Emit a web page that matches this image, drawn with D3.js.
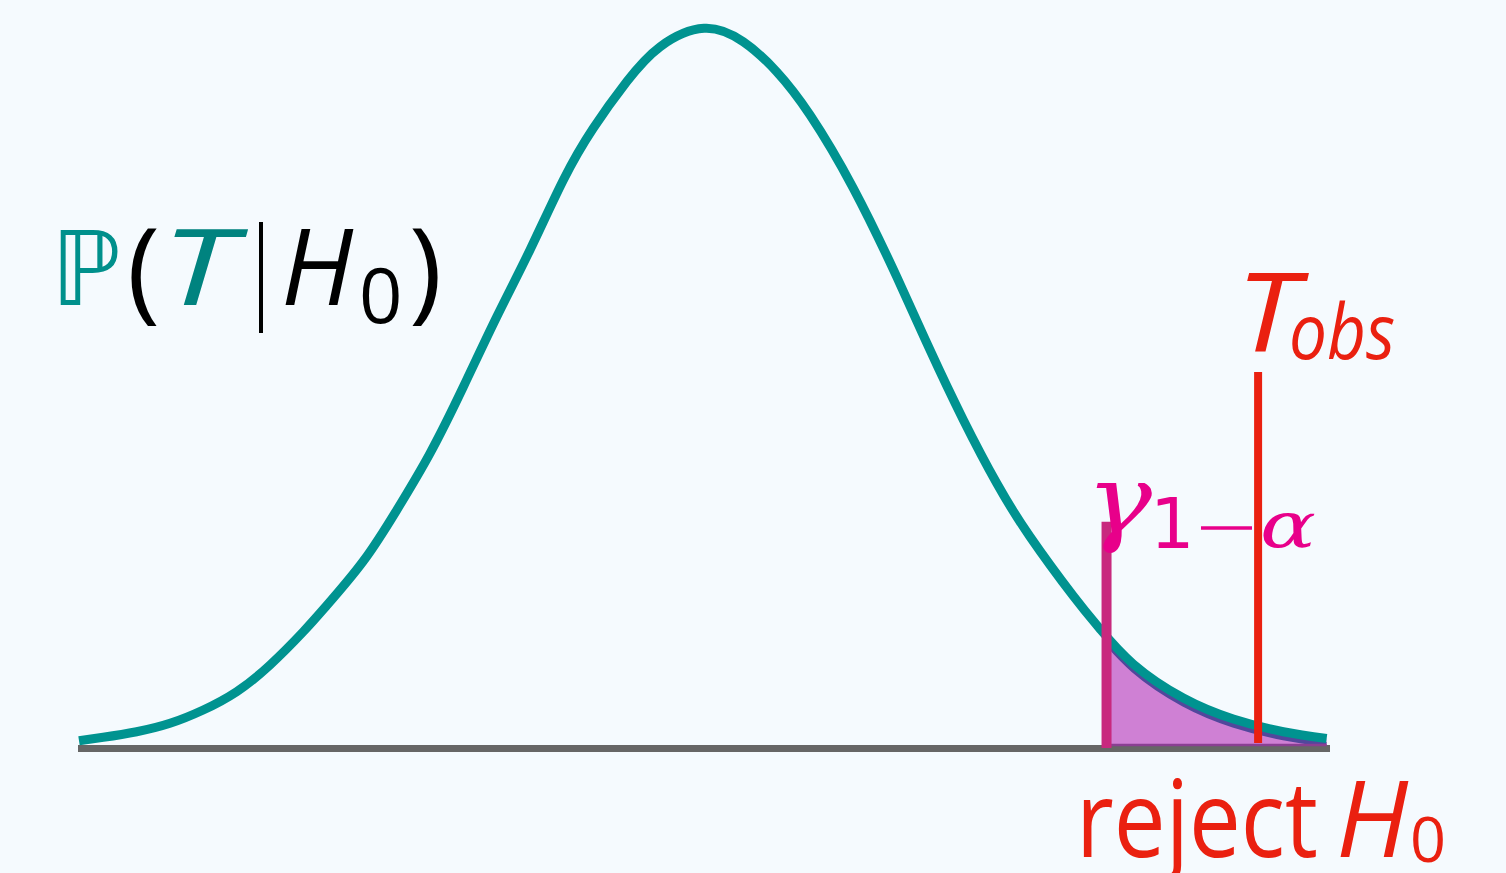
<!DOCTYPE html>
<html>
<head>
<meta charset="utf-8">
<script src="https://cdn.jsdelivr.net/npm/d3@7"></script>
<style>
  body { margin: 0; background: #f5fafe; }
  #chart { width: 1506px; height: 873px; }
  text { font-family: "Open Sans", "DejaVu Sans", sans-serif; }
</style>
</head>
<body>
<div id="chart"></div>
<script>
// density curve (t, density)
const tValues = [-3.2, -3.076, -2.905, -2.734, -2.564, -2.393, -2.222, -2.052, -1.932, -1.744, -1.573, -1.403, -1.232, -1.061,
                 -0.891, -0.720, -0.567, -0.396, -0.225, 0, 0.201, 0.372, 0.543, 0.764, 0.987, 1.157, 1.328, 1.499, 1.669,
                 1.891, 2.028, 2.198, 2.454, 2.710, 2.966, 3.188];
const densities = [0.0035, 0.0054, 0.0085, 0.0132, 0.0206, 0.0308, 0.0457, 0.0642, 0.0788, 0.1036, 0.1320, 0.1636, 0.2007, 0.2397,
                   0.2769, 0.3159, 0.3447, 0.3706, 0.3901, 0.4004, 0.3929, 0.3762, 0.3521, 0.3114, 0.2619, 0.2212, 0.1822, 0.1469, 0.1172,
                   0.0841, 0.0657, 0.0462, 0.0273, 0.0156, 0.0085, 0.0047];

const tCrit = 2.061;      // gamma_{1-alpha}
const tObs = 2.837;       // T_obs
const critTop = 0.1255;
const obsTop = 0.2089;

const width = 1506;
const height = 873;

const svg = d3.select("#chart")
    .append("svg")
    .attr("width", width)
    .attr("height", height);

svg.append("rect")
    .attr("width", width)
    .attr("height", height)
    .attr("fill", "#f5fafe");

const xScale = d3.scaleLinear()
    .domain([-3.2, 3.2])
    .range([79, 1329]);

const yScale = d3.scaleLinear()
    .domain([0, 0.4])
    .range([747, 29]);

const points = tValues.map(function(t, i) { return {t: t, d: densities[i]}; });

/*
REJECTION REGION
*/
svg.append("clipPath")
    .attr("id", "tail")
    .append("rect")
    .attr("x", xScale(tCrit))
    .attr("y", 0)
    .attr("width", xScale(3.188) - xScale(tCrit))
    .attr("height", height);

const area = d3.area()
    .x(function(d) { return xScale(d.t); })
    .y0(yScale(0))
    .y1(function(d) { return yScale(d.d); })
    .curve(d3.curveNatural);

const line = d3.line()
    .x(function(d) { return xScale(d.t); })
    .y(function(d) { return yScale(d.d); })
    .curve(d3.curveNatural);

svg.append("path")
    .datum(points)
    .attr("clip-path", "url(#tail)")
    .attr("d", area)
    .attr("fill", "#cf80d4");

svg.append("path")
    .datum(points)
    .attr("clip-path", "url(#tail)")
    .attr("transform", "translate(0,6)")
    .attr("d", line)
    .attr("fill", "none")
    .attr("stroke", "#52479c")
    .attr("stroke-width", 5);

// baseline
svg.append("line")
    .attr("x1", xScale(-3.2) - 1)
    .attr("x2", xScale(3.2) + 1)
    .attr("y1", yScale(0) + 1.5)
    .attr("y2", yScale(0) + 1.5)
    .attr("stroke", "#666666")
    .attr("stroke-width", 7);

svg.append("line")
    .attr("x1", xScale(tCrit))
    .attr("x2", xScale(3.188))
    .attr("y1", yScale(0) - 2)
    .attr("y2", yScale(0) - 2)
    .attr("stroke", "#8a3f92")
    .attr("stroke-width", 2.5);

// density curve
svg.append("path")
    .datum(points)
    .attr("d", line)
    .attr("fill", "none")
    .attr("stroke", "#009390")
    .attr("stroke-width", 9);

// critical value line
svg.append("line")
    .attr("x1", xScale(tCrit))
    .attr("x2", xScale(tCrit))
    .attr("y1", yScale(critTop))
    .attr("y2", yScale(0) + 1)
    .attr("stroke", "#c8297e")
    .attr("stroke-width", 10);

// observed statistic line
svg.append("line")
    .attr("x1", xScale(tObs))
    .attr("x2", xScale(tObs))
    .attr("y1", yScale(obsTop))
    .attr("y2", yScale(0) - 4)
    .attr("stroke", "#ea2010")
    .attr("stroke-width", 8);

/*
LABELS
*/
function addText(x, y, str, size, color, italic, family, len) {
    const t = svg.append("text")
        .attr("x", x)
        .attr("y", y)
        .attr("font-size", size)
        .attr("fill", color)
        .attr("font-style", italic ? "italic" : "normal")
        .style("font-family", family || null)
        .text(str);
    if (len) {
        t.attr("textLength", len).attr("lengthAdjust", "spacingAndGlyphs");
    }
    return t;
}

// P(T | H0)
addText(51, 305, "\u2119", 103, "#00908c", false, "DejaVu Sans", 70);
addText(127, 308, "(", 112, "#000000", false);
addText(161, 305, "T", 106, "#00837f", true, null, 74);
svg.append("line")
    .attr("x1", 261).attr("x2", 261)
    .attr("y1", 222).attr("y2", 333)
    .attr("stroke", "#000000").attr("stroke-width", 4);
addText(281, 305, "H", 106, "#000000", true);
addText(359, 323, "0", 76, "#000000", false);
addText(409, 308, ")", 112, "#000000", false);

// T_obs
addText(1236, 352, "T", 110, "#ea2010", true, null, 62);
addText(1289, 359, "obs", 76, "#ea2010", true, null, 106);

// gamma_{1-alpha}
addText(1086, 533, "\u03B3", 96, "#e8008a", true, "DejaVu Serif", 66);
addText(1150, 548, "1", 70, "#e8008a", false, "DejaVu Sans");
svg.append("line")
    .attr("x1", 1201).attr("x2", 1252)
    .attr("y1", 528).attr("y2", 528)
    .attr("stroke", "#e8008a").attr("stroke-width", 3.5);
addText(1260, 547, "\u03B1", 64, "#e8008a", true, "DejaVu Serif", 56);

// reject H0
addText(1076, 857, "reject", 106, "#ea2010", false, null, 242);
addText(1336, 857, "H", 106, "#ea2010", true);
addText(1410, 862, "0", 63, "#ea2010", false);
</script>
</body>
</html>
